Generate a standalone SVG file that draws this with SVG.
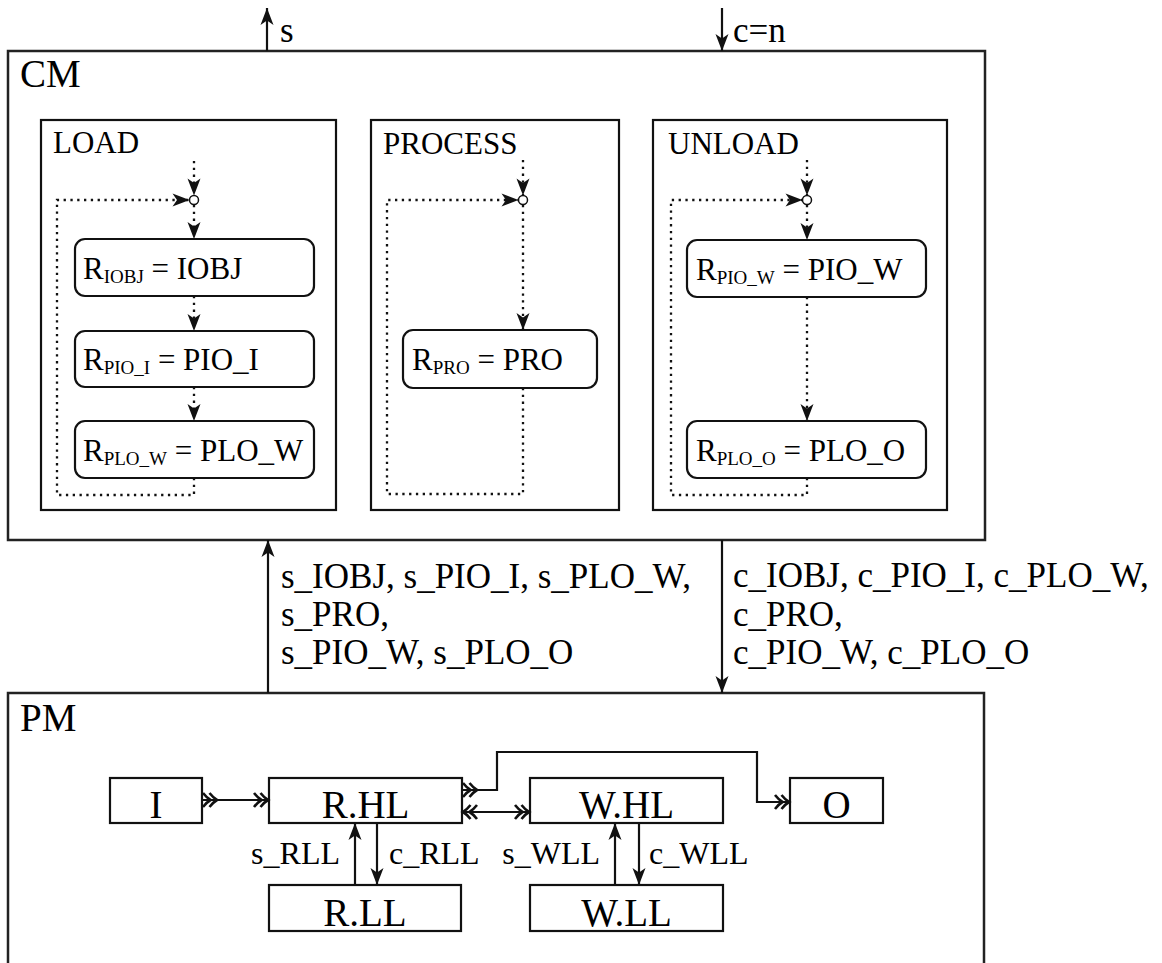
<svg xmlns="http://www.w3.org/2000/svg" width="1162" height="963" viewBox="0 0 1162 963">
<style>
text{font-family:"Liberation Serif","Times New Roman",serif;fill:#000}
.big{font-size:39px}
.lbl{font-size:31px}
.st{font-size:31px}
.sub{font-size:19px}
.el{font-size:35px}
.sl{font-size:32px}
.frame{fill:#fff;stroke:#222;stroke-width:2.5}
.box{fill:#fff;stroke:#111;stroke-width:2.2}
.ln{fill:none;stroke:#111;stroke-width:2.2}
.dot{fill:none;stroke:#111;stroke-width:2.3;stroke-dasharray:2.3 4.5}
.jn{fill:#fff;stroke:#111;stroke-width:1.5}
</style>
<defs>
<marker id="arr" markerUnits="userSpaceOnUse" viewBox="-19 -8 20 16" refX="0" refY="0" markerWidth="20" markerHeight="16" orient="auto" overflow="visible">
<path d="M0,0 L-17,-6.5 L-12.5,0 L-17,6.5 Z" fill="#111"/>
</marker>
<marker id="dblHead" markerUnits="userSpaceOnUse" viewBox="-17 -9 18 18" refX="0" refY="0" markerWidth="18" markerHeight="18" orient="auto-start-reverse" overflow="visible">
<path d="M-15,-7 Q-11,-2 -7.5,0 Q-11,2 -15,7 M-8.5,-7 Q-4.5,-2 -1,0 Q-4.5,2 -8.5,7" fill="none" stroke="#111" stroke-width="2.6"/>
</marker>
<marker id="dblTail" markerUnits="userSpaceOnUse" viewBox="-1 -9 18 18" refX="0" refY="0" markerWidth="18" markerHeight="18" orient="auto" overflow="visible">
<path d="M1,-7 Q5,-2 8.5,0 Q5,2 1,7 M7.5,-7 Q11.5,-2 15,0 Q11.5,2 7.5,7" fill="none" stroke="#111" stroke-width="2.6"/>
</marker>
</defs>
<rect width="1162" height="963" fill="#fff"/>

<g id="CM">
<rect class="frame" x="8" y="51" width="977" height="489"/>
<text class="big" x="20" y="87">CM</text>
</g>
<g id="PM">
<rect class="frame" x="8" y="693" width="976" height="300"/>
<text class="big" x="20" y="731">PM</text>
</g>

<g id="LOAD">
<rect class="box" x="41" y="120" width="295" height="390"/>
<text class="lbl" x="53" y="153">LOAD</text>
<circle class="jn" cx="194" cy="200" r="4.5"/>
</g>
<g id="PROCESS">
<rect class="box" x="371" y="120" width="248" height="390"/>
<text class="lbl" x="383" y="154">PROCESS</text>
<circle class="jn" cx="523" cy="200" r="4.5"/>
</g>
<g id="UNLOAD">
<rect class="box" x="653" y="120" width="294" height="390"/>
<text class="lbl" x="668" y="154">UNLOAD</text>
<circle class="jn" cx="807" cy="200" r="4.5"/>
</g>

<g id="R_IOBJ">
<rect class="box" x="75" y="239" width="239" height="57" rx="10"/>
<text class="st" x="83" y="279">R<tspan class="sub" dy="4">IOBJ</tspan><tspan dy="-4"> = IOBJ</tspan></text>
</g>
<g id="R_PIO_I">
<rect class="box" x="75" y="331" width="239" height="56" rx="10"/>
<text class="st" x="83" y="370">R<tspan class="sub" dy="4">PIO_I</tspan><tspan dy="-4"> = PIO_I</tspan></text>
</g>
<g id="R_PLO_W">
<rect class="box" x="75" y="421" width="239" height="57" rx="10"/>
<text class="st" x="83" y="461">R<tspan class="sub" dy="4">PLO_W</tspan><tspan dy="-4"> = PLO_W</tspan></text>
</g>
<g id="R_PRO">
<rect class="box" x="403" y="330" width="194" height="58" rx="10"/>
<text class="st" x="412" y="370">R<tspan class="sub" dy="4">PRO</tspan><tspan dy="-4"> = PRO</tspan></text>
</g>
<g id="R_PIO_W">
<rect class="box" x="687" y="240" width="239" height="57" rx="10"/>
<text class="st" x="696" y="280">R<tspan class="sub" dy="4">PIO_W</tspan><tspan dy="-4"> = PIO_W</tspan></text>
</g>
<g id="R_PLO_O">
<rect class="box" x="687" y="421" width="239" height="57" rx="10"/>
<text class="st" x="696" y="461">R<tspan class="sub" dy="4">PLO_O</tspan><tspan dy="-4"> = PLO_O</tspan></text>
</g>

<g id="I">
<rect class="box" x="110" y="778" width="92" height="45"/>
<text class="big" x="156" y="818" text-anchor="middle">I</text>
</g>
<g id="R.HL">
<rect class="box" x="269" y="778" width="193" height="45"/>
<text class="big" x="365.5" y="818" text-anchor="middle">R.HL</text>
</g>
<g id="W.HL">
<rect class="box" x="530" y="778" width="193" height="45"/>
<text class="big" x="626.5" y="818" text-anchor="middle">W.HL</text>
</g>
<g id="O">
<rect class="box" x="790" y="778" width="93" height="45"/>
<text class="big" x="836.5" y="818" text-anchor="middle">O</text>
</g>
<g id="R.LL">
<rect class="box" x="269" y="885" width="192" height="46"/>
<text class="big" x="365" y="926" text-anchor="middle">R.LL</text>
</g>
<g id="W.LL">
<rect class="box" x="530" y="885" width="193" height="46"/>
<text class="big" x="626.5" y="926" text-anchor="middle">W.LL</text>
</g>

<g id="connectors">
<path class="ln" d="M267,51 L267,8" marker-end="url(#arr)"/>
<text class="el" x="280" y="42">s</text>
<path class="ln" d="M722,8 L722,51" marker-end="url(#arr)"/>
<text class="el" x="733" y="42">c=n</text>

<path class="ln" d="M268,693 L268,540" marker-end="url(#arr)"/>
<text class="el" x="281" y="588">s_IOBJ, s_PIO_I, s_PLO_W,</text>
<text class="el" x="281" y="626">s_PRO,</text>
<text class="el" x="281" y="664">s_PIO_W, s_PLO_O</text>
<path class="ln" d="M722,540 L722,693" marker-end="url(#arr)"/>
<text class="el" x="733" y="587">c_IOBJ, c_PIO_I, c_PLO_W,</text>
<text class="el" x="733" y="626">c_PRO,</text>
<text class="el" x="733" y="664">c_PIO_W, c_PLO_O</text>

<path class="dot" d="M194,161 L194,195.5" marker-end="url(#arr)"/>
<path class="dot" d="M194,205 L194,239" marker-end="url(#arr)"/>
<path class="dot" d="M194,296 L194,331" marker-end="url(#arr)"/>
<path class="dot" d="M194,387 L194,421" marker-end="url(#arr)"/>
<path class="dot" d="M194,478 L194,495 L57,495 L57,200 L189.5,200" marker-end="url(#arr)"/>

<path class="dot" d="M523,160 L523,195.5" marker-end="url(#arr)"/>
<path class="dot" d="M523,205 L523,330" marker-end="url(#arr)"/>
<path class="dot" d="M523,388 L523,494 L387,494 L387,200 L518.5,200" marker-end="url(#arr)"/>

<path class="dot" d="M807,160 L807,195.5" marker-end="url(#arr)"/>
<path class="dot" d="M807,205 L807,240" marker-end="url(#arr)"/>
<path class="dot" d="M807,297 L807,421" marker-end="url(#arr)"/>
<path class="dot" d="M807,478 L807,495 L671,495 L671,200 L802.5,200" marker-end="url(#arr)"/>

<path class="ln" d="M202,800 L269,800" marker-start="url(#dblTail)" marker-end="url(#dblHead)"/>
<path class="ln" d="M462,790 L497,790 L497,752 L757,752 L757,802 L790,802" marker-start="url(#dblTail)" marker-end="url(#dblHead)"/>
<path class="ln" d="M462,812 L530,812" marker-start="url(#dblHead)" marker-end="url(#dblHead)"/>

<path class="ln" d="M355,885 L355,823" marker-end="url(#arr)"/>
<path class="ln" d="M377,823 L377,885" marker-end="url(#arr)"/>
<text class="sl" x="340" y="864" text-anchor="end">s_RLL</text>
<text class="sl" x="389" y="864">c_RLL</text>
<path class="ln" d="M615,885 L615,823" marker-end="url(#arr)"/>
<path class="ln" d="M639,823 L639,885" marker-end="url(#arr)"/>
<text class="sl" x="600" y="864" text-anchor="end">s_WLL</text>
<text class="sl" x="649" y="864">c_WLL</text>
</g>
</svg>
